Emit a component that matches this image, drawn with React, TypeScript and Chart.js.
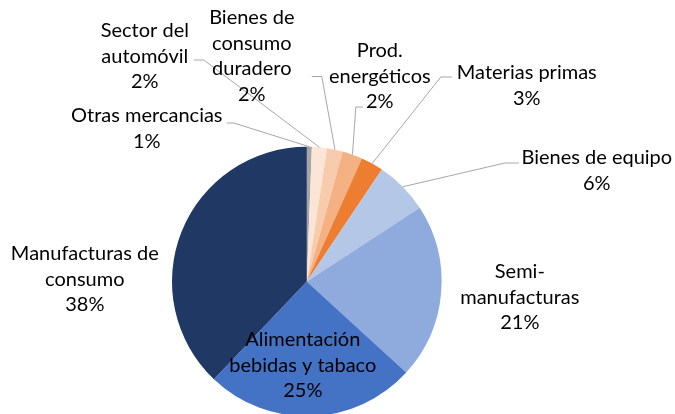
import React, { useEffect, useRef } from "react";
import { Chart, registerables } from "chart.js";

Chart.register(...registerables);

// ---- Data ----
const categories: string[] = [
  "Otras mercancias",
  "Sector del automóvil",
  "Bienes de consumo duradero",
  "Prod. energéticos",
  "Materias primas",
  "Bienes de equipo",
  "Semi-manufacturas",
  "Alimentación bebidas y tabaco",
  "Manufacturas de consumo",
];

const shares: number[] = [0.6, 1.8, 1.9, 2.4, 2.7, 6.4, 21.0, 25.3, 37.9];

// Label text lines (without percentage; percentage is appended from data)
const labelLines: string[][] = [
  ["Otras mercancias"],
  ["Sector del", "automóvil"],
  ["Bienes de", "consumo", "duradero"],
  ["Prod.", "energéticos"],
  ["Materias primas"],
  ["Bienes de equipo"],
  ["Semi-", "manufacturas"],
  ["Alimentación", "bebidas y tabaco"],
  ["Manufacturas de", "consumo"],
];

const sliceColors: string[] = [
  "#A5A5A5",
  "#FBE5D6",
  "#F8CBAD",
  "#F4B183",
  "#ED7D31",
  "#B4C7E7",
  "#8FAADC",
  "#4472C4",
  "#203864",
];

// ---- Layout (offsets from pie centre, px) ----
// [text centre dx, first line centre dy]
const labelOffsets: [number, number][] = [
  [-160, -165.5],
  [-162, -250.5],
  [-55, -263.5],
  [73, -230.5],
  [220, -208.5],
  [290, -123.5],
  [213, -9.5],
  [-4, 58.5],
  [-222, -27.5],
];
// leader: [startDx, startDy, elbowDx, elbowDy] or null
const leaderOffsets: ([number, number, number, number] | null)[] = [
  [-80, -158.5, -73, -158.5],
  [-113, -221.5, -103, -221.5],
  [5, -205, 15, -205],
  [56, -174.5, 49, -174.5],
  [145, -204.5, 134, -204.5],
  [212, -118.5, 198, -118.5],
  null,
  null,
  null,
];

const FONT_SIZE = 20;
const LINE_H = 25.5;
const FONT_FAMILY = "Lato, 'Open Sans', sans-serif";

const labelPlugin = {
  id: "pieLabels",
  afterDatasetsDraw(chart: any) {
    const ctx: CanvasRenderingContext2D = chart.ctx;
    const meta = chart.getDatasetMeta(0);
    const vals = chart.data.datasets[0].data as number[];
    ctx.save();
    meta.data.forEach((arc: any, i: number) => {
      const { x, y, startAngle, endAngle, outerRadius } = arc.getProps(
        ["x", "y", "startAngle", "endAngle", "outerRadius"],
        true
      );
      const mid = (startAngle + endAngle) / 2;
      const ex = x + Math.cos(mid) * outerRadius;
      const ey = y + Math.sin(mid) * outerRadius;
      const ld = leaderOffsets[i];
      if (ld) {
        ctx.beginPath();
        ctx.strokeStyle = "#A6A6A6";
        ctx.lineWidth = 1;
        ctx.moveTo(x + ld[0], y + ld[1]);
        ctx.lineTo(x + ld[2], y + ld[3]);
        ctx.lineTo(ex, ey);
        ctx.stroke();
      }
      const lines = [...labelLines[i], Math.round(vals[i]) + "%"];
      const [dx, dy] = labelOffsets[i];
      ctx.fillStyle = "#000000";
      ctx.font = `${FONT_SIZE}px ${FONT_FAMILY}`;
      ctx.textAlign = "center";
      ctx.textBaseline = "middle";
      lines.forEach((t, k) => {
        ctx.fillText(t, x + dx, y + dy + k * LINE_H);
      });
    });
    ctx.restore();
  },
};

export default function App() {
  const ref = useRef<HTMLCanvasElement | null>(null);
  useEffect(() => {
    document.body.style.margin = "0";
    const canvas = ref.current!;
    const chart = new Chart(canvas, {
      type: "pie",
      data: {
        labels: categories,
        datasets: [
          {
            data: shares,
            backgroundColor: sliceColors,
            borderWidth: 0,
            hoverBorderWidth: 0,
            hoverOffset: 0,
          } as any,
        ],
      },
      options: {
        responsive: false,
        animation: false,
        events: [],
        rotation: 0,
        layout: {
          padding: { left: 172, right: 233.4, top: 146.7, bottom: 33.7 },
        },
        plugins: {
          legend: { display: false },
          tooltip: { enabled: false },
        },
      },
      plugins: [labelPlugin],
    });
    return () => chart.destroy();
  }, []);
  return (
    <div
      style={{
        width: 675,
        height: 414,
        overflow: "hidden",
        position: "relative",
        background: "#ffffff",
      }}
    >
      <canvas
        ref={ref}
        width={675}
        height={450}
        style={{ position: "absolute", left: 0, top: 0, width: 675, height: 450 }}
      />
    </div>
  );
}
